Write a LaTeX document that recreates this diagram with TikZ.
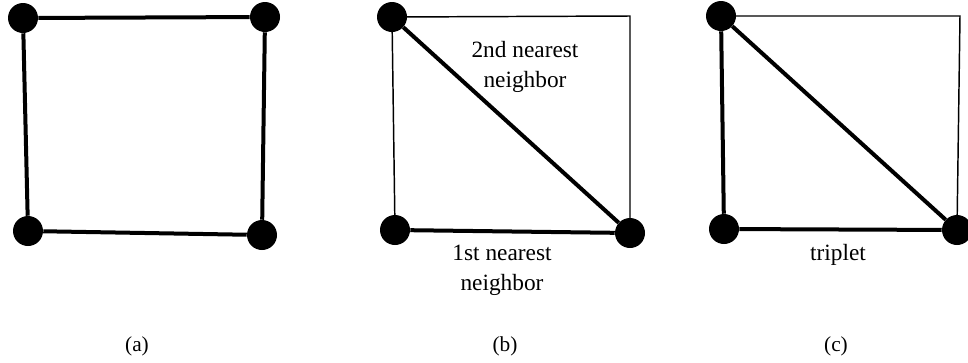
\documentclass[tikz,border=0pt]{standalone}
\usepackage{fontspec}
\setmainfont{Liberation Serif}
\usetikzlibrary{positioning}
\tikzset{
  site/.style={circle, fill=black, inner sep=0pt, minimum size=22.5pt},
  bond/.style={line width=3pt, color=black},
  edge/.style={line width=1.1pt, color=black},
  bondlabel/.style={align=center, font=\fontsize{17.5}{22.5}\selectfont},
  panellabel/.style={font=\fontsize{16}{18}\selectfont},
}

\begin{document}
\begin{tikzpicture}[x=0.75pt, y=-0.75pt]
  \useasboundingbox (0,0) rectangle (968,362);
  % (a) square of four sites
  \node[site] (a1) at (23,18) {};
  \node[site] (a2) at (265,17) {};
  \node[site] (a3) at (28,231) {};
  \node[site] (a4) at (262,235) {};
  \foreach \a/\b in {a1/a2,a2/a4,a4/a3,a3/a1}
    \draw[bond] (\a) -- (\b);
  \node[panellabel] (la) at (137,346) {(a)};
  % (b) first and second nearest neighbors
  \node[site] (b1) at (392,17) {};
  \node[site] (b3) at (395,230) {};
  \node[site] (b4) at (630,233) {};
  \coordinate (b2) at (630,16);
  \draw[edge] (b3.center) -- (b1.center) -- (b2) -- (b4.center);
  \draw[bond] (b3) -- (b4);
  \draw[bond] (b1) -- (b4);
  \node[bondlabel] (second) at (525,67) {2nd nearest\\neighbor};
  \node[bondlabel] (first) at (502,270) {1st nearest\\neighbor};
  \node[panellabel] (lb) at (505,346) {(b)};
  % (c) triplet
  \node[site] (c1) at (721,16) {};
  \node[site] (c3) at (724,229) {};
  \node[site] (c4) at (957,230) {};
  \coordinate (c2) at (960,16);
  \draw[edge] (c1.center) -- (c2) -- (c4.center);
  \foreach \a/\b in {c1/c3,c3/c4,c1/c4}
    \draw[bond] (\a) -- (\b);
  \node[bondlabel] (trip) at (838,255) {triplet};
  \node[panellabel] (lc) at (836,346) {(c)};
\end{tikzpicture}
\end{document}
